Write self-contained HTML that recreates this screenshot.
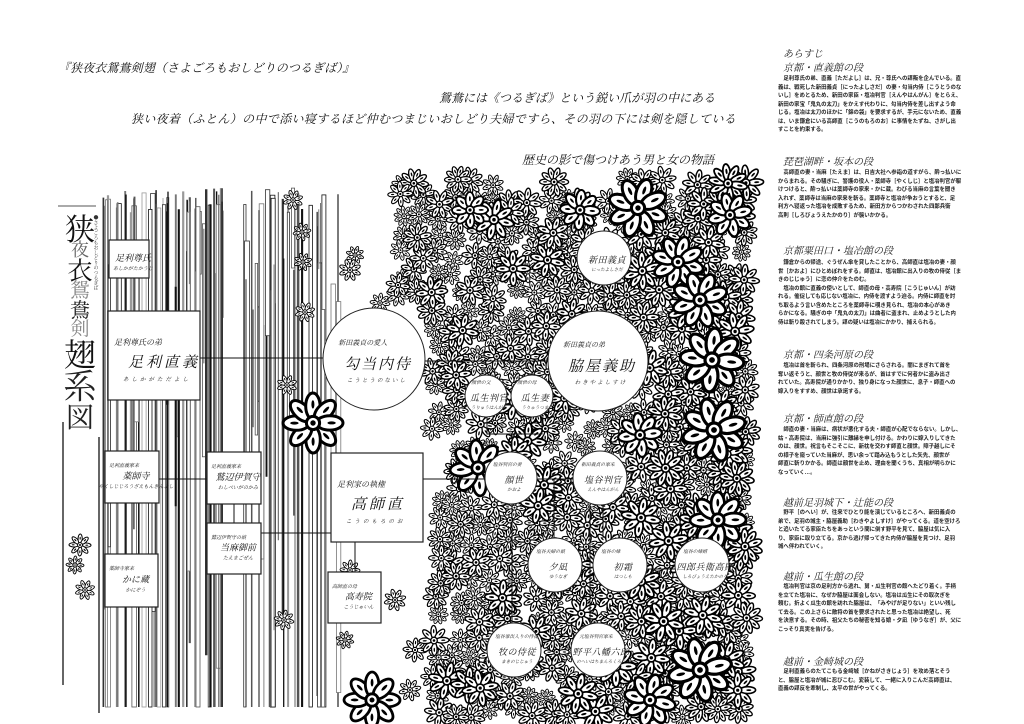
<!DOCTYPE html>
<html><head><meta charset="utf-8">
<style>
html,body{margin:0;padding:0;background:#fff;}
#wrap{position:relative;width:1024px;height:724px;overflow:hidden;background:#fff;font-family:"Liberation Serif","Noto Serif CJK SC",serif;}
svg{position:absolute;left:0;top:0;}
.r{position:absolute;left:778px;width:200px;font-family:"Liberation Sans","Noto Sans CJK JP",sans-serif;font-size:5.4px;line-height:8.5px;color:#222;white-space:nowrap;font-weight:bold;}
.h{position:absolute;left:783px;font-family:"Liberation Serif","Noto Serif CJK JP",serif;font-style:italic;font-size:10px;color:#222;white-space:nowrap;}
.t{position:absolute;font-family:"Liberation Serif","Noto Serif CJK JP",serif;font-style:italic;font-size:12px;color:#111;white-space:nowrap;}
</style></head><body><div id="wrap">
<svg id="s" width="1024" height="724" viewBox="0 0 1024 724" xmlns="http://www.w3.org/2000/svg"></svg>
<div class="t" style="left:58px;top:59px;letter-spacing:0.1px">『狭夜衣鴛鴦剣翅（さよごろもおしどりのつるぎば）』</div>
<div class="t" style="left:439px;top:89px">鴛鴦には《つるぎば》という鋭い爪が羽の中にある</div>
<div class="t" style="left:131px;top:110px;letter-spacing:0.35px">狭い夜着（ふとん）の中で添い寝するほど仲むつまじいおしどり夫婦ですら、その羽の下には剣を隠している</div>
<div class="t" style="left:522px;top:151px">歴史の影で傷つけあう男と女の物語</div>

<div class="h" style="top:45px">あらすじ</div>
<div class="h" style="top:59px">京都・直義館の段</div>
<div class="r" style="top:75px">　足利尊氏の弟、直義［ただよし］は、兄・尊氏への謀叛を企んでいる。直<br>義は、戦死した新田義貞［にったよしさだ］の妻・勾当内侍［こうとうのな<br>いし］をめとるため、新田の家臣・塩冶判官［えんやはんがん］をとらえ、<br>新田の家宝「鬼丸の太刀」をかえす代わりに、勾当内侍を差し出すよう命<br>じる。塩冶は太刀のほかに「錦の袋」を要求するが、手元にないため、直義<br>は、いま鎌倉にいる高師直［こうのもろのお］に事情をたずね、さがし出<br>すことを約束する。</div>
<div class="h" style="top:153px">琵琶湖畔・坂本の段</div>
<div class="r" style="top:169px">　高師直の妻・当麻［たえま］は、日吉大社へ参詣の道すがら、酔っ払いに<br>からまれる。その騒ぎに、警護の役人・薬師寺［やくしじ］と塩冶判官が駆<br>けつけると、酔っ払いは薬師寺の家来・かに蔵。わびる当麻の言葉を聞き<br>入れず、薬師寺は当麻の家来を斬る。薬師寺と塩冶が争おうとすると、足<br>利方へ寝返った塩冶を成敗するため、新田方からつかわされた四郎兵衛<br>高則［しろびょうえたかのり］が襲いかかる。</div>
<div class="h" style="top:242px">京都粟田口・塩冶館の段</div>
<div class="r" style="top:259px">　鎌倉からの帰途、ぐうぜん傘を貸したことから、高師直は塩冶の妻・顔<br>世［かおよ］にひとめぼれをする。師直は、塩冶館に出入りの牧の侍従［ま<br>きのじじゅう］に恋の仲介をたのむ。<br>　塩冶の館に直義の使いとして、師直の母・高寿院［こうじゅいん］が訪<br>れる。催促しても応じない塩冶に、内侍を渡すよう迫る。内侍に師直を討<br>ち取るよう言い含めたところを薬師寺に覗き見られ、塩冶の本心があき<br>らかになる。騒ぎの中「鬼丸の太刀」は曲者に盗まれ、止めようとした内<br>侍は斬り殺されてしまう。謀の疑いは塩冶にかかり、捕えられる。</div>
<div class="h" style="top:346px">京都・四条河原の段</div>
<div class="r" style="top:362px">　塩冶は首を斬られ、四条河原の刑場にさらされる。闇にまぎれて首を<br>奪い返そうと、顔世と牧の侍従が来るが、首はすでに何者かに盗み出さ<br>れていた。高寿院が通りかかり、独り身になった顔世に、息子・師直への<br>嫁入りをすすめ、顔世は承諾する。</div>
<div class="h" style="top:410px">京都・師直館の段</div>
<div class="r" style="top:426px">　師直の妻・当麻は、病状が悪化する夫・師直が心配でならない。しかし、<br>姑・高寿院は、当麻に強引に離縁を申し付ける。かわりに嫁入りしてきた<br>のは、顔世。祝言もそこそこに、新枕を交わす師直と顔世。障子越しにそ<br>の様子を窺っていた当麻が、思い余って踏み込もうとした矢先、顔世が<br>師直に斬りかかる。師直は顔世を止め、理由を聞くうち、真相が明らかに<br>なっていく…。</div>
<div class="h" style="top:494px">越前足羽城下・辻能の段</div>
<div class="r" style="top:509px">　野平［のへい］が、往来でひとり能を演じているところへ、新田義貞の<br>弟で、足羽の城主・脇屋義助［わきやよしすけ］がやってくる。道を空けろ<br>と追いたてる家臣たちをあっという間に倒す野平を見て、脇屋は気に入<br>り、家臣に取り立てる。京から逃げ帰ってきた内侍が脇屋を見つけ、足羽<br>城へ伴われていく。</div>
<div class="h" style="top:568px">越前・瓜生館の段</div>
<div class="r" style="top:583px">　塩冶判官は京の足利方から逃れ、舅・瓜生判官の館へたどり着く。手柄<br>を立てた塩冶に、なぜか脇屋は面会しない。塩冶は瓜生にその取次ぎを<br>頼む。折よく瓜生の館を訪れた脇屋は、「みやげが足りない」といい残し<br>て去る。この上さらに敵将の首を要求されたと思った塩冶は絶望し、死<br>を決意する。その時、祖父たちの秘密を知る娘・夕凪［ゆうなぎ］が、父に<br>こっそり真実を告げる。</div>
<div class="h" style="top:653px">越前・金崎城の段</div>
<div class="r" style="top:668px">　足利直義らのたてこもる金崎城［かねがさきじょう］を攻め落とそう<br>と、脇屋と塩冶が城に忍びこむ。変装して、一緒に入りこんだ高師直は、<br>直義の謀反を牽制し、太平の世がやってくる。</div>
</div>
<script>
(function(){
var s=document.getElementById('s'),o=[];
var seed=12345;function R(){seed=(seed*1103515245+12345)&0x7fffffff;return seed/0x7fffffff;}
// vertical lines
for(var i=0;i<110;i++){
 var x=102+R()*240, y1=R()<0.75?188+R()*25:215+R()*120, y2=R()<0.6?707:260+R()*440;
 if(x>300&&R()<0.5){y1=220+R()*100;}
 var c=['#111','#333','#555','#777','#999'][Math.floor(R()*5)];
 if(R()<0.4){var w=2+R()*3;o.push('<rect x="'+x.toFixed(1)+'" y="'+y1.toFixed(1)+'" width="'+w.toFixed(1)+'" height="'+(y2-y1).toFixed(1)+'" fill="#fff" stroke="'+c+'" stroke-width="0.8"/>');}
 else o.push('<line x1="'+x.toFixed(1)+'" y1="'+y1.toFixed(1)+'" x2="'+x.toFixed(1)+'" y2="'+y2.toFixed(1)+'" stroke="'+c+'" stroke-width="'+(0.8+R()*1.6).toFixed(1)+'"/>');
}
o.push('<line x1="63" y1="422" x2="63" y2="685" stroke="#333" stroke-width="1.5"/>');
o.push('<line x1="99" y1="437" x2="99" y2="713" stroke="#333" stroke-width="1.5"/>');
function fl(cx,cy,r,n,bold){
 var g='<g>',sw=bold?Math.max(1.4,r*0.1):Math.max(0.9,r*0.09),rot=R()*60;
 for(var k=0;k<n;k++){var a=(rot+k*360/n).toFixed(1);
  g+='<g transform="rotate('+a+' '+cx.toFixed(1)+' '+cy.toFixed(1)+')"><ellipse cx="'+(cx+r*0.56).toFixed(1)+'" cy="'+cy.toFixed(1)+'" rx="'+(r*0.44).toFixed(1)+'" ry="'+(r*(bold?0.24:0.19)).toFixed(1)+'" fill="#fff" stroke="#000" stroke-width="'+sw.toFixed(1)+'"/><ellipse cx="'+(cx+r*0.62).toFixed(1)+'" cy="'+cy.toFixed(1)+'" rx="'+(r*0.14).toFixed(1)+'" ry="'+(r*0.05).toFixed(1)+'" fill="#000"/></g>';}
 g+='<circle cx="'+cx.toFixed(1)+'" cy="'+cy.toFixed(1)+'" r="'+(r*0.22).toFixed(1)+'" fill="#fff" stroke="#000" stroke-width="'+sw.toFixed(1)+'"/><circle cx="'+cx.toFixed(1)+'" cy="'+cy.toFixed(1)+'" r="'+(r*0.09).toFixed(1)+'" fill="#000"/></g>';
 return g;}
function inD(x,y){ if(x>748)return false; if(y<178)return false;
 if(y<300) return x>395; if(y<440) return x>430; if(y<560) return x>440; return x>428; }
var F=[];
for(var y=180;y<720;y+=19){for(var x=380;x<752;x+=19){
 var px=x+(R()-0.5)*12,py=y+(R()-0.5)*12; if(!inD(px,py))continue;
 var r=9+R()*6; if(px>640)r+=R()*5; F.push([px,py,r,R()<0.5?8:10,false]);}}
// scattered in white area
var sp=[[350,270,11],[398,285,12],[380,303,10],[355,255,9],[293,200,10],[302,232,9],[305,312,10],[303,262,9],[287,385,10],[80,545,11],[75,565,9],[85,590,10],[284,620,10],[350,570,10],[395,600,11],[415,650,12],[410,690,11],[345,640,9]];
sp.forEach(function(a){F.push([a[0],a[1],a[2],8,false]);});
// medium
for(var i=0;i<45;i++){var px=430+R()*315,py=180+R()*535; if(!inD(px,py))continue; F.push([px,py,15+R()*6,8,false]);}
F.sort(function(a,b){return a[2]-b[2]+(R()-0.5)*6;});
F.forEach(function(f){o.push(fl(f[0],f[1],f[2],f[3],f[4]));});
var B=[[313,423,30],[478,468,28],[638,208,30],[678,262,26],[700,300,28],[712,360,32],[714,430,32],[718,520,28],[640,435,22],[700,670,32],[650,700,26],[372,700,28],[580,210,20],[470,210,18],[730,215,22]];
B.forEach(function(b){o.push(fl(b[0],b[1],b[2],8,true));});
// connector lines
var L='stroke="#111" stroke-width="1" fill="none"';
o.push('<line x1="200" y1="358" x2="324" y2="358" '+L+'/>');
o.push('<line x1="424" y1="361" x2="548" y2="361" '+L+'/>');
o.push('<line x1="604" y1="285" x2="604" y2="311" '+L+'/>');
o.push('<line x1="159" y1="479" x2="207" y2="479" '+L+'/>');
o.push('<line x1="261" y1="533" x2="331" y2="533" '+L+'/>');
o.push('<line x1="132" y1="400" x2="132" y2="451" '+L+'/>');
o.push('<line x1="132" y1="503" x2="132" y2="554" '+L+'/>');
o.push('<line x1="234" y1="504" x2="234" y2="523" '+L+'/>');
o.push('<line x1="355" y1="542" x2="355" y2="572" '+L+'/>');
o.push('<line x1="423" y1="479" x2="574" y2="479" '+L+'/>');
o.push('<rect x="487" y="405" width="55" height="29" '+L+'/>');
o.push('<line x1="512" y1="434" x2="512" y2="623" '+L+'/>');
o.push('<line x1="554" y1="480" x2="554" y2="538" '+L+'/>');
o.push('<line x1="590" y1="505" x2="590" y2="623" '+L+'/>');
o.push('<line x1="603" y1="505" x2="603" y2="538" '+L+'/>');
o.push('<line x1="647" y1="569" x2="675" y2="569" '+L+'/>');
// nodes
var TF='font-family="Liberation Serif,Noto Serif CJK JP,serif" font-style="italic" fill="#111"';
function box(x,y,w,h,lab,name,rd,big){
 o.push('<rect x="'+x+'" y="'+y+'" width="'+w+'" height="'+h+'" fill="#fff" stroke="#222" stroke-width="1.2"/>');
 if(big){o.push('<text x="'+(x+6)+'" y="'+(y+34)+'" font-size="8" '+TF+'>'+lab+'</text>');
  o.push('<text x="'+(x+20)+'" y="'+(y+56)+'" font-size="15" letter-spacing="3" '+TF+'>'+name+'</text>');
  o.push('<text x="'+(x+15)+'" y="'+(y+70)+'" font-size="5.5" letter-spacing="3" '+TF+'>'+rd+'</text>');}
 else{o.push('<text x="'+(x+4)+'" y="'+(y+16)+'" font-size="5" '+TF+'>'+lab+'</text>');
  o.push('<text x="'+(x+w/2+4)+'" y="'+(y+h/2+2)+'" font-size="9" text-anchor="middle" '+TF+'>'+name+'</text>');
  o.push('<text x="'+(x+w/2+4)+'" y="'+(y+h/2+11)+'" font-size="5" text-anchor="middle" '+TF+'>'+rd+'</text>');}}
box(109,240,40,38,'','足利尊氏','あしかがたかうじ',false);
box(108,311,92,89,'足利尊氏の弟','足利直義','あしかがただよし',true);
box(105,451,54,52,'足利直義家来','薬師寺','やくしじじろうざえもんきんよし',false);
box(207,452,54,52,'足利直義家来','鷲辺伊賀守','わしべいがのかみ',false);
box(207,523,54,51,'鷲辺伊賀守の娘','当麻御前','たえまごぜん',false);
box(105,554,53,53,'薬師寺家来','かに蔵','かにぞう',false);
box(331,453,92,89,'足利家の執権','高師直','こうのもろのお',true);
box(328,572,53,51,'高師直の母','高寿院','こうじゅいん',false);
function cir(cx,cy,r,lab,name,rd){
 o.push('<circle cx="'+cx+'" cy="'+cy+'" r="'+r+'" fill="#fff" stroke="#222" stroke-width="1"/>');
 var big=r>40;
 o.push('<text x="'+(cx-r*0.7)+'" y="'+(cy-(big?14:12))+'" font-size="'+(big?7:4.8)+'" '+TF+'>'+lab+'</text>');
 o.push('<text x="'+(cx+(big?4:3))+'" y="'+(cy+(big?10:5))+'" font-size="'+(big?15:9)+'" text-anchor="middle" letter-spacing="'+(big?2:0.5)+'" '+TF+'>'+name+'</text>');
 o.push('<text x="'+(cx+(big?3:3))+'" y="'+(cy+(big?23:13))+'" font-size="'+(big?5.5:4.5)+'" text-anchor="middle" letter-spacing="'+(big?2:0)+'" '+TF+'>'+rd+'</text>');}
cir(374,359,51,'新田義貞の愛人','勾当内侍','こうとうのないし');
cir(598,361,50,'新田義貞の弟','脇屋義助','わきやよしすけ');
cir(604,258,27,'','新田義貞','にったよしさだ');
cir(486,396,21,'顔世の父','瓜生判官','うりゅうはんがん');
cir(532,396,21,'顔世の母','瓜生妻','うりゅうつま');
cir(511,478,26,'塩谷判官の妻','顔世','かおよ');
cir(600,478,27,'新田義貞の家来','塩谷判官','えんやはんがん');
cir(555,565,27,'塩谷夫婦の娘','夕凪','ゆうなぎ');
cir(620,565,27,'塩谷の妹','初霜','はつしも');
cir(702,565,27,'塩谷の妹婿','四郎兵衛高則','しろびょうえたかのり');
cir(514,650,27,'塩谷家出入りの侍従','牧の侍従','まきのじじゅう');
cir(598,650,27,'元塩谷判官家来','野平八幡六郎','のへいはちまんろくろう');
// title
var T=[['狭',213,30,'#111'],['夜',240,18,'#666'],['衣',257,25,'#111'],['鴛',279,20,'#888'],['鴦',299,20,'#222'],['剣',318,19,'#888'],['翅',337,32,'#111'],['系',368,34,'#222'],['図',402,28,'#222']];
T.forEach(function(t){o.push('<text x="80" y="'+(t[1]+t[2]*0.9)+'" font-size="'+t[2]+'" text-anchor="middle" font-family="Liberation Serif,Noto Serif CJK JP,serif" fill="'+t[3]+'">'+t[0]+'</text>');});
o.push('<text x="96" y="215" font-size="5" writing-mode="tb" font-family="Noto Serif CJK JP,serif" fill="#333">●さよごろもおしどりのつるぎば</text>');
o.push('<line x1="58" y1="206" x2="96" y2="206" stroke="#555" stroke-width="1"/>');
s.innerHTML=o.join('');
})();
</script>
</body></html>
